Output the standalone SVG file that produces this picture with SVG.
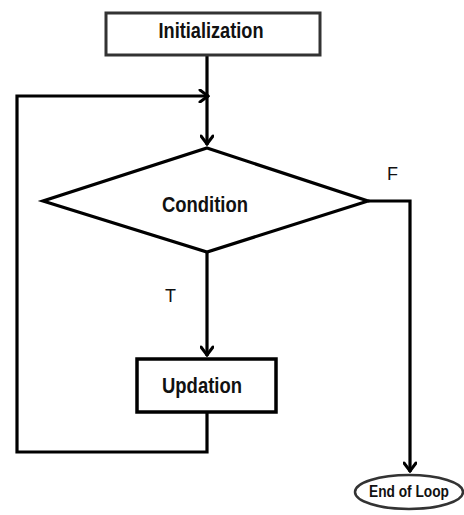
<svg xmlns="http://www.w3.org/2000/svg" width="464" height="515" viewBox="0 0 464 515">
  <defs>
    <marker id="chev" viewBox="0 0 12 14" refX="11" refY="7" markerWidth="12" markerHeight="14" markerUnits="userSpaceOnUse" orient="auto">
      <polyline points="2,1 10,7 2,13" fill="none" stroke="#000" stroke-width="3" stroke-linecap="round" stroke-linejoin="miter"/>
    </marker>
  </defs>
  <style>
    .box { fill: #fff; stroke: #000; stroke-width: 3.5; }
    .lbl { font-family: "Liberation Sans Narrow", "Liberation Sans", Arial, sans-serif; font-weight: bold; fill: #111; text-anchor: middle; }
    .tag { font-family: "Liberation Sans", Arial, sans-serif; font-size: 18px; fill: #111; }
    .flow { fill: none; stroke: #000; stroke-width: 3.2; stroke-linejoin: miter; }
  </style>
  <rect width="464" height="515" fill="#fff"/>

  <g id="connectors">
    <!-- Initialization down into the condition -->
    <path class="flow" d="M207,56 V145" marker-end="url(#chev)"/>
    <!-- loop back from Updation to the join point -->
    <path class="flow" d="M207,413 V452 H17 V96 H209" marker-end="url(#chev)"/>
    <!-- true branch -->
    <path class="flow" d="M207,252 V356" marker-end="url(#chev)"/>
    <!-- false branch to end -->
    <path class="flow" d="M368,201 H410 V472" marker-end="url(#chev)"/>
  </g>

  <g id="init">
    <rect x="106" y="13" width="214" height="42" fill="#fff" stroke="#333" stroke-width="3"/>
    <text class="lbl" x="211" y="38" font-size="22" textLength="105" lengthAdjust="spacingAndGlyphs">Initialization</text>
  </g>

  <g id="condition">
    <polygon points="207,148 368,201 207,252 43,201" fill="#fff" stroke="#000" stroke-width="3.2" stroke-linejoin="miter"/>
    <text class="lbl" x="205" y="212" font-size="22" textLength="86" lengthAdjust="spacingAndGlyphs">Condition</text>
  </g>

  <g id="update">
    <rect class="box" x="137" y="359" width="139" height="53"/>
    <text class="lbl" x="202" y="393" font-size="22" textLength="80" lengthAdjust="spacingAndGlyphs">Updation</text>
  </g>

  <g id="end">
    <ellipse cx="409" cy="492" rx="54" ry="17" fill="#fff" stroke="#333" stroke-width="2.5"/>
    <text class="lbl" x="409" y="497" font-size="16" textLength="80" lengthAdjust="spacingAndGlyphs">End of Loop</text>
  </g>

  <g id="branch-labels">
    <text class="tag" x="387" y="180">F</text>
    <text class="tag" x="165" y="302">T</text>
  </g>
</svg>
